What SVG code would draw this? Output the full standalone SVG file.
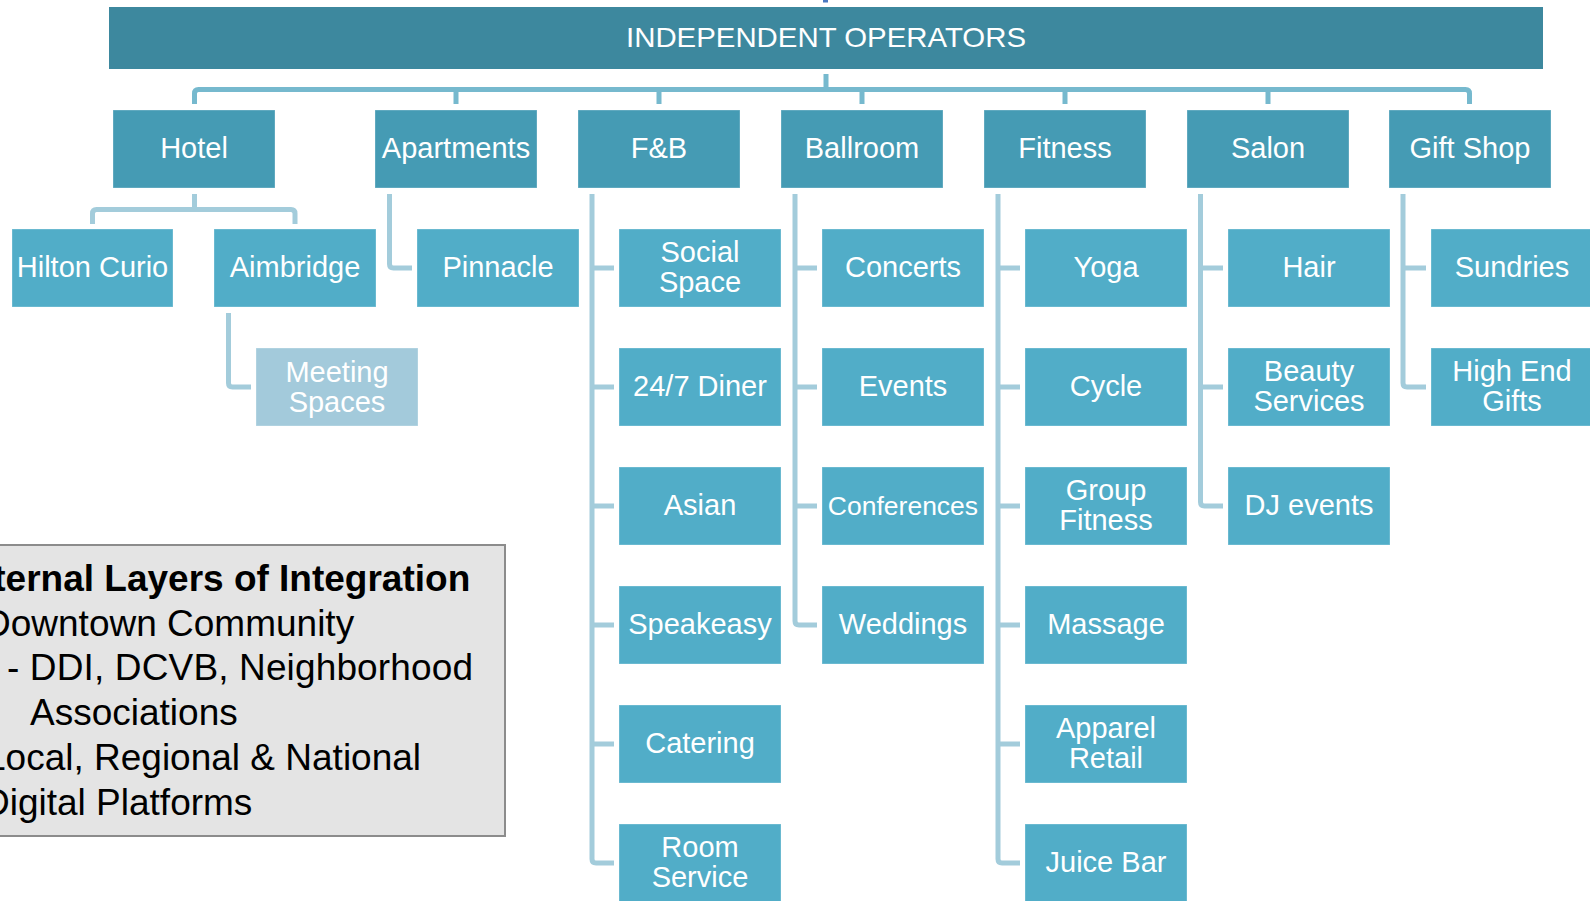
<svg xmlns="http://www.w3.org/2000/svg" width="1590" height="901" viewBox="0 0 1590 901">
<style>
  text { font-family: "Liberation Sans", Arial, sans-serif; }
  .top { fill: #3D889E; }
  .l1 { fill: #459BB4; stroke: #ffffff; stroke-opacity: 0.3; stroke-width: 1; }
  .l2 { fill: #51ADC8; stroke: #ffffff; stroke-opacity: 0.3; stroke-width: 1; }
  .l3 { fill: #A3CADB; stroke: #ffffff; stroke-opacity: 0.3; stroke-width: 1; }
  .t { fill: #ffffff; font-size: 29px; text-anchor: middle; }
  .c1 { fill: none; stroke: #76B9CE; stroke-width: 5; stroke-linejoin: round; }
  .c2 { fill: none; stroke: #A3CCDB; stroke-width: 5; stroke-linejoin: round; }
  .lg { fill: #000000; font-size: 37px; }
</style>

<g id="connectors">
  <rect x="823" y="0" width="5" height="2.5" fill="#4A78C0"/>
  <path class="c1" d="M826,74 V89.5 M194.5,104 V93.5 Q194.5,89.5 198.5,89.5 H1465.5 Q1469.5,89.5 1469.5,93.5 V104 M456,89.5 V104 M659,89.5 V104 M862,89.5 V104 M1065,89.5 V104 M1268,89.5 V104"/>
  <path class="c2" d="M194.5,194 V209.5 M92.5,224 V213.5 Q92.5,209.5 96.5,209.5 H291 Q295,209.5 295,213.5 V224"/>
  <path class="c2" d="M228.5,313 V383 Q228.5,387 232.5,387 H251"/>
  <path class="c2" d="M389.5,194 V264 Q389.5,268 393.5,268 H412"/>
  <path class="c2" d="M592,194 V859 Q592,863 596,863 H614 M592,268 H614 M592,387 H614 M592,506 H614 M592,625 H614 M592,744 H614"/>
  <path class="c2" d="M795,194 V621 Q795,625 799,625 H817 M795,268 H817 M795,387 H817 M795,506 H817"/>
  <path class="c2" d="M998,194 V859 Q998,863 1002,863 H1020 M998,268 H1020 M998,387 H1020 M998,506 H1020 M998,625 H1020 M998,744 H1020"/>
  <path class="c2" d="M1200.5,194 V502 Q1200.5,506 1204.5,506 H1223 M1200.5,268 H1223 M1200.5,387 H1223"/>
  <path class="c2" d="M1403,194 V383 Q1403,387 1407,387 H1426 M1403,268 H1426"/>
</g>

<g id="root">
  <rect class="top" x="109" y="7" width="1434" height="62"/>
  <text x="826" y="47" fill="#ffffff" font-size="28" text-anchor="middle" textLength="400" lengthAdjust="spacingAndGlyphs">INDEPENDENT OPERATORS</text>
</g>

<g id="hotel"><rect class="l1" x="113" y="110" width="162" height="78"/><text class="t" x="194" y="158">Hotel</text></g>
<g id="apartments"><rect class="l1" x="375" y="110" width="162" height="78"/><text class="t" x="456" y="158">Apartments</text></g>
<g id="fnb"><rect class="l1" x="578" y="110" width="162" height="78"/><text class="t" x="659" y="158">F&amp;B</text></g>
<g id="ballroom"><rect class="l1" x="781" y="110" width="162" height="78"/><text class="t" x="862" y="158">Ballroom</text></g>
<g id="fitness"><rect class="l1" x="984" y="110" width="162" height="78"/><text class="t" x="1065" y="158">Fitness</text></g>
<g id="salon"><rect class="l1" x="1187" y="110" width="162" height="78"/><text class="t" x="1268" y="158">Salon</text></g>
<g id="giftshop"><rect class="l1" x="1389" y="110" width="162" height="78"/><text class="t" x="1470" y="158">Gift Shop</text></g>

<g id="hilton"><rect class="l2" x="12" y="229" width="161" height="78"/><text class="t" x="92.5" y="277">Hilton Curio</text></g>
<g id="aimbridge"><rect class="l2" x="214" y="229" width="162" height="78"/><text class="t" x="295" y="277">Aimbridge</text></g>
<g id="meeting"><rect class="l3" x="256" y="348" width="162" height="78"/><text class="t" x="337" y="381.5">Meeting</text><text class="t" x="337" y="411.5">Spaces</text></g>
<g id="pinnacle"><rect class="l2" x="417" y="229" width="162" height="78"/><text class="t" x="498" y="277">Pinnacle</text></g>

<g id="social"><rect class="l2" x="619" y="229" width="162" height="78"/><text class="t" x="700" y="262">Social</text><text class="t" x="700" y="292">Space</text></g>
<g id="diner"><rect class="l2" x="619" y="348" width="162" height="78"/><text class="t" x="700" y="396">24/7 Diner</text></g>
<g id="asian"><rect class="l2" x="619" y="467" width="162" height="78"/><text class="t" x="700" y="515">Asian</text></g>
<g id="speakeasy"><rect class="l2" x="619" y="586" width="162" height="78"/><text class="t" x="700" y="634">Speakeasy</text></g>
<g id="catering"><rect class="l2" x="619" y="705" width="162" height="78"/><text class="t" x="700" y="753">Catering</text></g>
<g id="roomservice"><rect class="l2" x="619" y="824" width="162" height="78"/><text class="t" x="700" y="857">Room</text><text class="t" x="700" y="887">Service</text></g>

<g id="concerts"><rect class="l2" x="822" y="229" width="162" height="78"/><text class="t" x="903" y="277">Concerts</text></g>
<g id="events"><rect class="l2" x="822" y="348" width="162" height="78"/><text class="t" x="903" y="396">Events</text></g>
<g id="conferences"><rect class="l2" x="822" y="467" width="162" height="78"/><text class="t" x="903" y="514.5" style="font-size:26.5px">Conferences</text></g>
<g id="weddings"><rect class="l2" x="822" y="586" width="162" height="78"/><text class="t" x="903" y="634">Weddings</text></g>

<g id="yoga"><rect class="l2" x="1025" y="229" width="162" height="78"/><text class="t" x="1106" y="277">Yoga</text></g>
<g id="cycle"><rect class="l2" x="1025" y="348" width="162" height="78"/><text class="t" x="1106" y="396">Cycle</text></g>
<g id="groupfitness"><rect class="l2" x="1025" y="467" width="162" height="78"/><text class="t" x="1106" y="500">Group</text><text class="t" x="1106" y="530">Fitness</text></g>
<g id="massage"><rect class="l2" x="1025" y="586" width="162" height="78"/><text class="t" x="1106" y="634">Massage</text></g>
<g id="apparel"><rect class="l2" x="1025" y="705" width="162" height="78"/><text class="t" x="1106" y="738">Apparel</text><text class="t" x="1106" y="768">Retail</text></g>
<g id="juicebar"><rect class="l2" x="1025" y="824" width="162" height="78"/><text class="t" x="1106" y="872">Juice Bar</text></g>

<g id="hair"><rect class="l2" x="1228" y="229" width="162" height="78"/><text class="t" x="1309" y="277">Hair</text></g>
<g id="beauty"><rect class="l2" x="1228" y="348" width="162" height="78"/><text class="t" x="1309" y="381">Beauty</text><text class="t" x="1309" y="411">Services</text></g>
<g id="dj"><rect class="l2" x="1228" y="467" width="162" height="78"/><text class="t" x="1309" y="515">DJ events</text></g>

<g id="sundries"><rect class="l2" x="1431" y="229" width="162" height="78"/><text class="t" x="1512" y="277">Sundries</text></g>
<g id="highend"><rect class="l2" x="1431" y="348" width="162" height="78"/><text class="t" x="1512" y="381">High End</text><text class="t" x="1512" y="411">Gifts</text></g>

<g id="legend">
  <rect x="-5" y="545" width="510" height="291" fill="#E4E4E4" stroke="#8C8C8C" stroke-width="2"/>
  <text class="lg" x="-52" y="591" font-weight="bold">External Layers of Integration</text>
  <text class="lg" x="-16" y="636">Downtown Community</text>
  <text class="lg" x="7" y="680" textLength="466">- DDI, DCVB, Neighborhood</text>
  <text class="lg" x="30" y="725">Associations</text>
  <text class="lg" x="-15" y="770">Local, Regional &amp; National</text>
  <text class="lg" x="-17" y="815">Digital Platforms</text>
</g>
</svg>
